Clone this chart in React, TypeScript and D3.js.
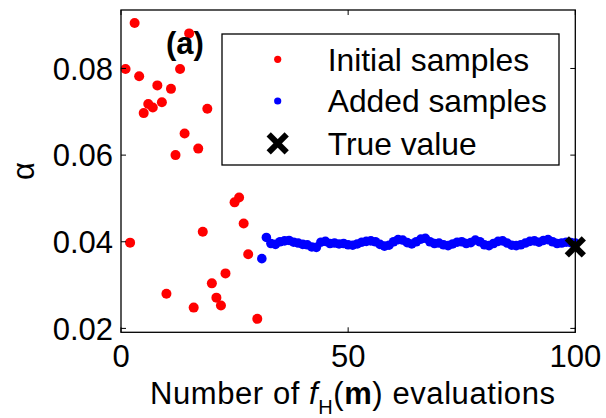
import React from "react";
import * as d3 from "d3";

const initialX = [1, 2, 3, 4, 5, 6, 7, 8, 9, 10, 11, 12, 13, 14, 15, 16, 17, 18, 19, 20, 21, 22, 23, 25, 26, 27, 28, 30];
const initialY = [0.0799, 0.0398, 0.0905, 0.0782, 0.0697, 0.0718, 0.071, 0.0761, 0.0722, 0.028, 0.0753, 0.06, 0.0799, 0.065, 0.0881, 0.0248, 0.0615, 0.0423, 0.0707, 0.0304, 0.0271, 0.0253, 0.0327, 0.0491, 0.0502, 0.0442, 0.0371, 0.0222];

const addedStart = 31;
const addedY = [
  0.0361, 0.041, 0.0396, 0.0394, 0.04, 0.0402, 0.0403, 0.0399, 0.0397, 0.0394,
  0.0393, 0.0388, 0.0387, 0.0399, 0.0401, 0.0396, 0.0397, 0.0395, 0.0396, 0.0393,
  0.0392, 0.0395, 0.0399, 0.0401, 0.0402, 0.04, 0.0394, 0.039, 0.0392, 0.04,
  0.0405, 0.0404, 0.0398, 0.0395, 0.04, 0.0406, 0.0408, 0.04, 0.0396, 0.0397,
  0.0393, 0.0391, 0.0395, 0.0399, 0.04, 0.0396, 0.0398, 0.0404, 0.04, 0.0393,
  0.0391, 0.0396, 0.0401, 0.0402, 0.0397, 0.0392, 0.0391, 0.0393, 0.0397, 0.0401,
  0.0402, 0.0399, 0.0403, 0.0405, 0.04, 0.0396, 0.0397, 0.0399, 0.0398, 0.0397,
];
const trueX = 100;
const trueY = 0.0388;

const xTicks = [0, 50, 100];
const yTicks = [0.02, 0.04, 0.06, 0.08];
const legendLabels = ["Initial samples", "Added samples", "True value"];

const FONT = "'Liberation Sans', Arial, sans-serif";

export default function App() {
  const W = 606, H = 418;
  const L = 121, R = 575.3, T = 10, B = 332.3;
  const x = d3.scaleLinear().domain([0, 100]).range([L, R]);
  const y = d3.scaleLinear().domain([0.0191, 0.0935]).range([B, T]);
  const tl = 5;

  const cross = (cx: number, cy: number, h: number, key?: string) => (
    <g key={key}>
      <line x1={cx - h} y1={cy - h} x2={cx + h} y2={cy + h} stroke="#000" strokeWidth={6} />
      <line x1={cx - h} y1={cy + h} x2={cx + h} y2={cy - h} stroke="#000" strokeWidth={6} />
    </g>
  );

  const lg = { x0: 222, y0: 34, x1: 559, y1: 165, mx: 277.7, tx: 327.7, rows: [59.3, 101, 143.3] };

  return (
    <svg width={W} height={H} style={{ position: "absolute", left: 0, top: 0, background: "#fff" }} fontFamily={FONT}>
      <rect x={0} y={0} width={W} height={H} fill="#fff" />
      {initialX.map((xv, i) => (
        <circle key={"r" + i} cx={x(xv)} cy={y(initialY[i])} r={5} fill="#ff0000" />
      ))}
      {addedY.map((v, i) => (
        <circle key={"b" + i} cx={x(addedStart + i)} cy={y(v)} r={4.8} fill="#0000ff" />
      ))}
      {cross(x(trueX), y(trueY), 8.5)}
      <rect x={L} y={T} width={R - L} height={B - T} fill="none" stroke="#000" strokeWidth={1.3} />
      {xTicks.map((t) => (
        <g key={"xt" + t}>
          <line x1={x(t)} x2={x(t)} y1={B} y2={B - tl} stroke="#000" />
          <line x1={x(t)} x2={x(t)} y1={T} y2={T + tl} stroke="#000" />
          <text x={x(t)} y={367} fontSize={31} textAnchor="middle" fill="#000">{t}</text>
        </g>
      ))}
      {yTicks.map((t) => (
        <g key={"yt" + t}>
          <line x1={L} x2={L + tl} y1={y(t)} y2={y(t)} stroke="#000" />
          <line x1={R} x2={R - tl} y1={y(t)} y2={y(t)} stroke="#000" />
          <text x={113} y={y(t)} dy="0.36em" fontSize={31} textAnchor="end" fill="#000">{t.toFixed(2)}</text>
        </g>
      ))}
      <text x={150} y={404} fontSize={31} fill="#000" textLength={405} lengthAdjust="spacing">
        Number of <tspan fontStyle="italic">f</tspan>
        <tspan fontSize={20} dy={10}>H</tspan>
        <tspan dy={-10}>(</tspan>
        <tspan fontWeight="bold">m</tspan>) evaluations
      </text>
      <text transform="translate(34,171) rotate(-90)" fontSize={31} textAnchor="middle" fill="#000">α</text>
      <text x={166} y={54} fontSize={31} fontWeight="bold" fill="#000">(a)</text>
      <rect x={lg.x0} y={lg.y0} width={lg.x1 - lg.x0} height={lg.y1 - lg.y0} fill="#fff" stroke="#000" strokeWidth={1.3} />
      <circle cx={lg.mx} cy={lg.rows[0]} r={3.6} fill="#ff0000" />
      <circle cx={lg.mx} cy={lg.rows[1]} r={3.6} fill="#0000ff" />
      {cross(lg.mx, lg.rows[2], 9)}
      {legendLabels.map((s, i) => (
        <text key={s} x={lg.tx} y={lg.rows[i]} dy="0.36em" fontSize={31.8} fill="#000">{s}</text>
      ))}
    </svg>
  );
}
